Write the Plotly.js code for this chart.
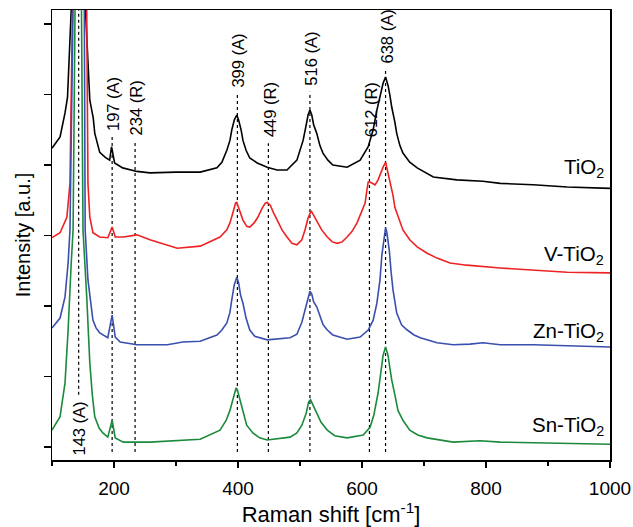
<!DOCTYPE html>
<html>
<head>
<meta charset="utf-8">
<script src="https://cdn.plot.ly/plotly-3.0.1.min.js"></script>
<style>html,body{margin:0;padding:0;background:#fff;}#chart{width:633px;height:527px;}</style>
</head>
<body>
<div id="chart"></div>
<script>
// Raman shift (cm^-1) and offset intensities (a.u.)
const tiO2X = [100,113,121,125,131,143,154,158,161,166.5,169,177,186,193,196,201,214,237,258,300,339,366,374,382,387,390,394,398,401,405,408,413,419,431,447,463,479,495,505,510,513,516,519,522,527,532,537,545,553,576,597,610,618,624,631,634,638,642,645,648,653,656,661,666,677,689,715,753,795,823,876,931,1000];
const tiO2Y = [4.24,4.40,4.74,4.96,6.2,12,6.2,5.42,4.92,4.67,4.45,4.18,4.11,4.07,4.26,4.03,3.96,3.91,3.89,3.90,3.90,3.96,4.04,4.21,4.35,4.50,4.64,4.71,4.64,4.50,4.35,4.21,4.10,4.03,3.97,3.93,3.93,4.07,4.35,4.57,4.71,4.78,4.71,4.57,4.45,4.28,4.17,4.07,4.00,3.97,4.07,4.26,4.50,4.78,5.06,5.16,5.25,5.13,4.99,4.82,4.61,4.45,4.28,4.17,4.04,3.96,3.83,3.79,3.77,3.74,3.72,3.69,3.67];

const vX = [100,113,124,129,133,143,156,158,161,166,177,190,197,202,215,237,258,286,302,339,371,382,387,392,396,398,401,405,408,414,419,426,432,439,444,447,452,457,463,471,479,487,495,503,508,513,518,522,527,535,544,552,560,568,576,584,592,598,605,608,610,613,618,621,626,629,634,638,640,645,650,653,660,666,677,689,705,721,742,769,823,876,931,1000];
const vY = [2.97,3.04,3.26,3.74,6.2,12,6.2,3.74,3.26,3.04,2.98,2.97,3.12,2.98,2.98,3.01,2.94,2.87,2.82,2.85,2.98,3.08,3.18,3.33,3.46,3.47,3.40,3.29,3.22,3.13,3.12,3.18,3.26,3.39,3.46,3.47,3.43,3.33,3.22,3.08,2.98,2.89,2.87,2.94,3.08,3.25,3.35,3.29,3.22,3.08,2.98,2.91,2.89,2.91,2.98,3.06,3.18,3.30,3.46,3.65,3.76,3.76,3.74,3.72,3.79,3.86,3.97,4.04,3.96,3.79,3.57,3.40,3.22,3.08,2.94,2.84,2.75,2.68,2.61,2.58,2.54,2.51,2.48,2.47];

const znX = [100,113,121,126,129,130,143,152,153.5,158,166,171,177,190,197,202,210,237,286,311,339,366,374,382,387,390,394,398,401,404,408,413,419,427,447,484,495,503,508,513,516,519,522,527,532,537,544,553,576,597,610,618,624,629,632,636,638,640,644,647,650,656,664,673,684,694,721,747,774,795,823,876,1000];
const znY = [1.69,1.83,2.13,2.61,3.08,6.5,12,6.5,3.08,2.37,1.80,1.69,1.62,1.55,1.87,1.56,1.49,1.45,1.45,1.49,1.50,1.59,1.66,1.76,1.91,2.09,2.30,2.41,2.33,2.16,2.04,1.83,1.66,1.57,1.52,1.55,1.60,1.77,1.94,2.14,2.21,2.17,2.06,1.99,1.86,1.74,1.66,1.59,1.53,1.56,1.66,1.80,2.04,2.37,2.72,3.01,3.11,3.05,2.79,2.48,2.23,1.90,1.73,1.66,1.59,1.55,1.48,1.45,1.46,1.48,1.45,1.45,1.42];

const snX = [100,113,121,126,131,134,143,150,156,161,165,169,176,182,190,197,202,215,258,311,339,371,381,387,392,397,399,403,408,414,424,435,447,484,495,503,510,514,517,521,527,534,544,556,576,602,613,619,626,631,634,638,642,645,648,653,658,666,677,690,705,747,790,823,1000];
const snY = [0.24,0.43,0.91,1.66,2.61,3.08,12,3.08,2.13,1.19,0.74,0.43,0.27,0.20,0.14,0.38,0.13,0.07,0.07,0.10,0.11,0.24,0.38,0.52,0.70,0.84,0.81,0.67,0.48,0.31,0.20,0.13,0.10,0.14,0.20,0.31,0.48,0.64,0.67,0.60,0.48,0.35,0.24,0.16,0.13,0.17,0.28,0.45,0.77,1.06,1.30,1.42,1.30,1.12,0.95,0.74,0.52,0.38,0.24,0.17,0.13,0.07,0.09,0.07,0.04];

// Peak markers
const peakX = [143,197,234,399,449,516,612,638];
const peakTop = [6.2,4.40,4.33,5.02,4.31,5.04,4.31,5.35];
const peakBottom = [0.74,-0.07,-0.07,-0.07,-0.07,-0.07,-0.07,-0.07];
const peakLabels = ["143 (A)","197 (A)","234 (R)","399 (A)","449 (R)","516 (A)","612 (R)","638 (A)"];

// Sample names and label heights
const sampleNames = ["TiO<sub>2</sub>","V-TiO<sub>2</sub>","Zn-TiO<sub>2</sub>","Sn-TiO<sub>2</sub>"];
const sampleLabelY = [3.96,2.72,1.63,0.30];
const sampleColors = ["#000000","#ee2222","#3a4fae","#1c8a3c"];

const FONT = "Liberation Sans, Arial, Helvetica, sans-serif";

const dashX = [], dashY = [];
peakX.forEach((p,i)=>{ dashX.push(p,p,null); dashY.push(peakBottom[i],peakTop[i],null); });

const series = [[tiO2X,tiO2Y],[vX,vY],[znX,znY],[snX,snY]];
const traces = [{
  x: dashX, y: dashY, mode:'lines', line:{color:'#000', width:1.2, dash:'dot'}, hoverinfo:'skip', showlegend:false
}];
series.forEach((s,i)=>{
  traces.push({x:s[0], y:s[1], mode:'lines', line:{color:sampleColors[i], width:1.6}, showlegend:false, name:sampleNames[i]});
});

const annotations = [];
peakX.forEach((p,i)=>{
  if (i===0) {
    annotations.push({x:p, y:peakBottom[i], xref:'x', yref:'y', text:peakLabels[i], showarrow:false, textangle:-90,
      yanchor:'top', xanchor:'center', yshift:-5, font:{family:FONT, size:16.5, color:'#000'}});
  } else {
    annotations.push({x:p, y:peakTop[i], xref:'x', yref:'y', text:peakLabels[i], showarrow:false, textangle:-90,
      yanchor:'bottom', xanchor:'center', yshift:4, xshift:1, font:{family:FONT, size:16.5, color:'#000'}});
  }
});
sampleNames.forEach((n,i)=>{
  annotations.push({x:994, y:sampleLabelY[i], xref:'x', yref:'y', text:n, showarrow:false,
    xanchor:'right', yanchor:'middle', font:{family:FONT, size:20.5, color:'#000'}});
});

const layout = {
  width:633, height:527,
  margin:{l:52, r:23, t:10, b:67},
  paper_bgcolor:'#fff', plot_bgcolor:'#fff',
  font:{family:FONT, color:'#000'},
  showlegend:false,
  xaxis:{
    range:[100,1000], tick0:0, dtick:200, ticks:'outside', ticklen:6, tickwidth:1.3, tickcolor:'#000',
    showline:true, linewidth:1.5, linecolor:'#000', mirror:true, showgrid:false, zeroline:false,
    minor:{dtick:100, ticks:'outside', ticklen:4, tickwidth:1.3, tickcolor:'#000', showgrid:false},
    ticklabelstandoff:5,
    tickfont:{family:FONT, size:19, color:'#000'},
    title:{text:'Raman shift [cm<sup>-1</sup>]', font:{family:FONT, size:22, color:'#000'}, standoff:9}
  },
  yaxis:{
    range:[-0.184,6.2], tickvals:[0,1,2,3,4,5,6], ticks:'outside', ticklen:7, tickwidth:1.3, tickcolor:'#000',
    showticklabels:false, showline:true, linewidth:1.5, linecolor:'#000', mirror:true, showgrid:false, zeroline:false,
    title:{text:'Intensity [a.u.]', font:{family:FONT, size:20, color:'#000'}, standoff:7}
  },
  annotations: annotations
};

Plotly.newPlot('chart', traces, layout, {displayModeBar:false, staticPlot:true});
</script>
</body>
</html>
